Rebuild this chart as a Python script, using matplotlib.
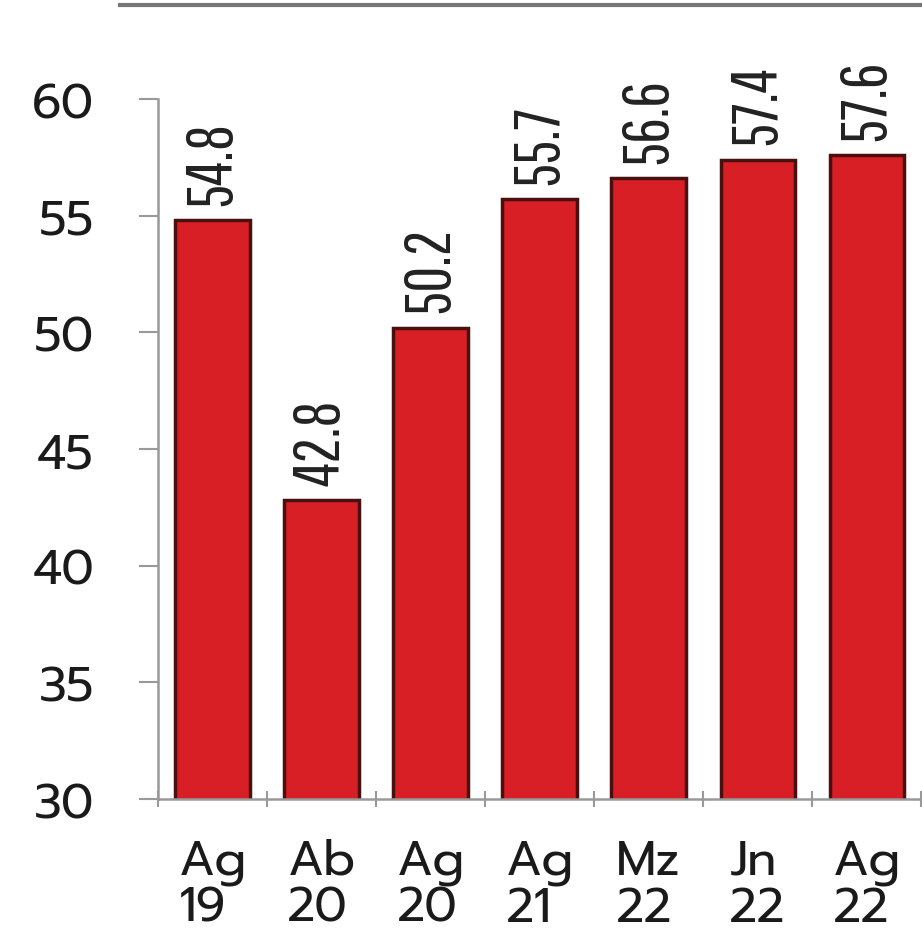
import matplotlib.pyplot as plt
from matplotlib.lines import Line2D

# --- data ---
months = ["Ag", "Ab", "Ag", "Ag", "Mz", "Jn", "Ag"]
years = ["19", "20", "20", "21", "22", "22", "22"]
values = [54.8, 42.8, 50.2, 55.7, 56.6, 57.4, 57.6]
yticks = [30, 35, 40, 45, 50, 55, 60]

labels = [f"{m}\n{y}" for m, y in zip(months, years)]
x = list(range(len(values)))

TICK_FONT = ["Prompt", "DejaVu Sans"]
VALUE_FONT = ["Pathway Gothic One", "Sofia Sans Extra Condensed", "DejaVu Sans"]

fig = plt.figure(figsize=(9.22, 9.45), dpi=100)
ax = fig.add_axes([0.1714, 0.1534, 0.8276, 0.7407])

ax.bar(x, values, width=0.68, color="#d81f26",
       edgecolor="#4a1010", linewidth=2.5, zorder=2)

# value labels, rotated
for xi, v in zip(x, values):
    ax.annotate(f"{v:.1f}", (xi, v), xytext=(0, 11), textcoords="offset points",
                rotation=90, ha="center", va="bottom", fontsize=46,
                color="#222222", annotation_clip=False, family=VALUE_FONT)

ax.set_ylim(30, 60)
ax.set_xlim(-0.5, len(values) - 0.5)
ax.set_yticks(yticks)
ax.set_yticklabels([str(t) for t in yticks], fontsize=35, color="#1a1a1a",
                   family=TICK_FONT)
ax.tick_params(axis="y", length=14, width=1.5, color="#999999", pad=32)

ax.set_xticks([i - 0.5 for i in range(len(values) + 1)])
ax.set_xticklabels([])
ax.tick_params(axis="x", direction="inout", length=12, width=1.5, color="#999999")
ax.set_xticks(x, minor=True)
ax.set_xticklabels(labels, minor=True, fontsize=35, color="#1a1a1a",
                   linespacing=1.0, multialignment="left", family=TICK_FONT)
ax.tick_params(axis="x", which="minor", length=0, pad=28)

for side in ["top", "right"]:
    ax.spines[side].set_visible(False)
for side in ["left", "bottom"]:
    ax.spines[side].set_color("#999999")
    ax.spines[side].set_linewidth(1.8)

# gray rule at top
fig.add_artist(Line2D([0.13, 1.0], [0.994, 0.994], color="#777777",
                      linewidth=3, transform=fig.transFigure))

fig.savefig("out.png", dpi=100)
